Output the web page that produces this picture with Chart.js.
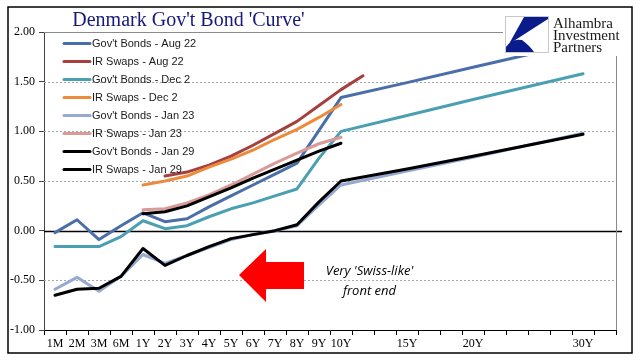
<!DOCTYPE html>
<html>
<head>
<meta charset="utf-8">
<script src="https://cdn.jsdelivr.net/npm/chart.js@4/dist/chart.umd.min.js"></script>
<style>
html,body{margin:0;padding:0;background:#fff;}
canvas{display:block;}
</style>
</head>
<body>
<canvas id="c" width="641" height="361"></canvas>
<script>
// ---- data ----
const categories = ["1M","2M","3M","6M","1Y","2Y","3Y","4Y","5Y","6Y","7Y","8Y","9Y","10Y","","","15Y","","","20Y","","","","","30Y",""];
const yTicks = [-1.0,-0.5,0.0,0.5,1.0,1.5,2.0];

const seriesNames = ["Gov't Bonds - Aug 22","IR Swaps - Aug 22","Gov't Bonds - Dec 2","IR Swaps - Dec 2","Gov't Bonds - Jan 23","IR Swaps - Jan 23","Gov't Bonds - Jan 29","IR Swaps - Jan 29"];

const govAug22  = [-0.02,0.11,-0.09,0.05,0.18,0.09,0.12,0.24,0.35,0.46,0.57,0.68,1.01,1.34,null,null,1.49,null,null,1.645,null,null,null,null,1.90,null];
const swapAug22 = [null,null,null,null,null,0.55,0.59,0.66,0.75,0.86,0.98,1.10,1.26,1.42,1.56,null,null,null,null,null,null,null,null,null,null,null];
const govDec2   = [-0.16,-0.16,-0.16,-0.06,0.10,0.02,0.05,0.14,0.22,0.28,0.35,0.42,0.73,1.00,null,null,1.16,null,null,1.32,null,null,null,null,1.58,null];
const swapDec2  = [null,null,null,null,0.46,0.50,0.55,0.64,0.72,0.81,0.92,1.02,1.14,1.27,null,null,null,null,null,null,null,null,null,null,null,null];
const govJan23  = [-0.59,-0.47,-0.61,-0.46,-0.24,-0.33,-0.25,-0.17,-0.09,-0.04,0.00,0.05,0.26,0.46,null,null,0.60,null,null,0.74,null,null,null,null,0.98,null];
const swapJan23 = [null,null,null,null,0.21,0.22,0.28,0.36,0.46,0.57,0.68,0.78,0.875,0.94,null,null,null,null,null,null,null,null,null,null,null,null];
const govJan29  = [-0.65,-0.59,-0.58,-0.46,-0.18,-0.35,-0.25,-0.16,-0.08,-0.04,0.00,0.06,0.29,0.50,null,null,0.62,null,null,0.75,null,null,null,null,0.97,null];
const swapJan29 = [null,null,null,null,0.17,0.19,0.25,0.34,0.43,0.53,0.62,0.71,0.80,0.88,null,null,null,null,null,null,null,null,null,null,null,null];

const seriesValues = [govAug22, swapAug22, govDec2, swapDec2, govJan23, swapJan23, govJan29, swapJan29];
const seriesColors = ["#4a6ea9","#a4403d","#4aa0b2","#ec8b3c","#95a9d1","#d99a98","#000000","#000000"];

const datasets = seriesNames.map((name, i) => ({
  label: name,
  data: seriesValues[i],
  borderColor: seriesColors[i],
  backgroundColor: seriesColors[i],
  borderWidth: 3,
  pointRadius: 0,
  pointHoverRadius: 0,
  tension: 0,
  spanGaps: true,
  fill: false,
  borderJoinStyle: 'round',
  borderCapStyle: 'round',
  order: 20 - i
}));

// ---- plugins ----
const bgPlugin = {
  id: 'bg',
  beforeDraw(chart) {
    const c = chart.ctx;
    c.save();
    c.fillStyle = '#fff';
    c.fillRect(0, 0, chart.width, chart.height);
    c.restore();
  },
  beforeDatasetsDraw(chart) {
    const c = chart.ctx, a = chart.chartArea, ys = chart.scales.y;
    c.save();
    yTicks.forEach(v => {
      const y = Math.round(ys.getPixelForValue(v)) + 0.5;
      if (v === -1.0) return;
      c.beginPath();
      if (v === 0) { c.strokeStyle = '#000'; c.lineWidth = 1.3; c.setLineDash([]); }
      else if (v === 2.0) { c.strokeStyle = '#8a8a8a'; c.lineWidth = 1; c.setLineDash([]); }
      else { c.strokeStyle = '#a8a8a8'; c.lineWidth = 1; c.setLineDash([2, 2]); }
      c.moveTo(a.left, y); c.lineTo(a.right + (v === 0 ? 6 : 0), y);
      c.stroke();
    });
    c.setLineDash([]);
    c.strokeStyle = '#8a8a8a'; c.lineWidth = 1;
    c.beginPath();
    c.moveTo(Math.round(a.right) + 0.5, a.top); c.lineTo(Math.round(a.right) + 0.5, a.bottom);
    c.stroke();
    c.restore();
  },
  afterDatasetsDraw(chart) {
    const c = chart.ctx;
    c.save();
    // arrow
    c.fillStyle = '#ff0000';
    c.beginPath();
    c.moveTo(239, 275);
    c.lineTo(266, 249);
    c.lineTo(266, 262);
    c.lineTo(304, 262);
    c.lineTo(304, 289);
    c.lineTo(266, 289);
    c.lineTo(266, 302);
    c.closePath();
    c.fill();
    // annotation text
    c.fillStyle = '#000';
    c.font = 'italic 13px "Open Sans"';
    c.textAlign = 'center';
    c.textBaseline = 'middle';
    c.fillText("Very 'Swiss-like'", 369.5, 271.5);
    c.fillText("front end", 369.5, 291);
    // legend
    c.textAlign = 'left';
    c.font = '11px "Liberation Sans"';
    chart.data.datasets.forEach((ds, i) => {
      const y = 43.5 + i * 18;
      c.strokeStyle = ds.borderColor;
      c.lineWidth = 3;
      c.lineCap = 'round';
      c.beginPath(); c.moveTo(64, y); c.lineTo(90, y); c.stroke();
      c.fillStyle = '#1a1a1a';
      c.fillText(ds.label, 92, y + 0.5);
    });
    c.restore();
  },
  afterDraw(chart) {
    const c = chart.ctx;
    c.save();
    // title
    c.fillStyle = '#16197a';
    c.font = '20px "Liberation Serif"';
    c.textAlign = 'center';
    c.textBaseline = 'alphabetic';
    c.fillText("Denmark Gov't Bond 'Curve'", 188.5, 26);
    // logo area
    c.fillStyle = '#fff';
    c.fillRect(503, 10, 126, 46);
    c.strokeStyle = '#c8c8c8'; c.lineWidth = 1;
    c.fillStyle = '#fff';
    c.fillRect(505, 16, 44, 37);
    c.strokeRect(505.5, 16.5, 43, 36);
    c.fillStyle = '#0a1c8c';
    c.beginPath();
    c.moveTo(524, 17); c.lineTo(548, 17); c.lineTo(548, 19);
    c.lineTo(509, 44); c.closePath(); c.fill();
    c.beginPath();
    c.moveTo(506, 52); c.lineTo(506, 47);
    c.quadraticCurveTo(512, 38, 522, 40);
    c.quadraticCurveTo(530, 46, 534, 52);
    c.closePath(); c.fill();
    c.fillStyle = '#1a1a1a';
    c.font = '15px "Liberation Serif"';
    c.textAlign = 'left';
    c.textBaseline = 'middle';
    c.fillText('Alhambra', 553, 24);
    c.fillText('Investment', 553, 36);
    c.fillText('Partners', 553, 48);
    // outer frame
    c.strokeStyle = '#000'; c.lineWidth = 1.5;
    c.strokeRect(8, 7, 624, 346);
    c.restore();
  }
};

new Chart(document.getElementById('c').getContext('2d'), {
  type: 'line',
  data: { labels: categories, datasets: datasets },
  options: {
    responsive: false,
    animation: false,
    devicePixelRatio: 1,
    layout: { padding: { left: 0, top: 32, right: 25, bottom: 0 } },
    plugins: { legend: { display: false }, tooltip: { enabled: false } },
    scales: {
      x: {
        offset: true,
        grid: { offset: true, drawOnChartArea: false, tickLength: 5, color: '#000', tickColor: '#000' },
        border: { color: '#000', width: 1 },
        ticks: { autoSkip: false, maxRotation: 0, minRotation: 0, padding: 2, color: '#000',
                 font: { family: 'Liberation Serif', size: 12 } },
        afterFit: s => { s.height = 31; }
      },
      y: {
        min: -1, max: 2,
        afterBuildTicks: s => { s.ticks = yTicks.map(v => ({ value: v })); },
        ticks: { callback: v => Number(v).toFixed(2), padding: 4, color: '#000',
                 font: { family: 'Liberation Serif', size: 12 } },
        grid: { drawOnChartArea: false, tickLength: 5, tickColor: '#444', color: '#444' },
        border: { color: '#444', width: 1 },
        afterFit: s => { s.width = 44; }
      }
    }
  },
  plugins: [bgPlugin]
});
</script>
</body>
</html>
